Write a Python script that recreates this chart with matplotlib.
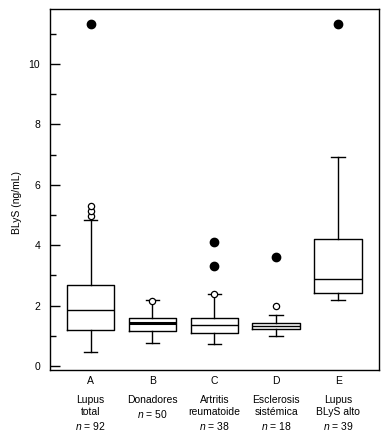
import matplotlib
matplotlib.use("Agg")
import matplotlib.pyplot as plt

plt.rcParams['font.family'] = ['Liberation Sans', 'DejaVu Sans']
plt.rcParams['mathtext.fontset'] = 'custom'
plt.rcParams['mathtext.it'] = 'Liberation Sans:italic'
plt.rcParams['mathtext.rm'] = 'Liberation Sans'

letters = ['A', 'B', 'C', 'D', 'E']
groups = ['Lupus\ntotal\n$n$ = 92', 'Donadores\n$n$ = 50', 'Artritis\nreumatoide\n$n$ = 38',
          'Esclerosis\nsistémica\n$n$ = 18', 'Lupus\nBLyS alto\n$n$ = 39']
whislo = [0.45, 0.75, 0.72, 0.99, 2.18]
q1 = [1.21, 1.15, 1.10, 1.22, 2.41]
med = [1.84, 1.43, 1.35, 1.31, 2.87]
q3 = [2.70, 1.58, 1.58, 1.41, 4.19]
whishi = [4.83, 2.19, 2.37, 1.68, 6.91]
open_out = [[4.97, 5.13, 5.30], [2.17], [2.38], [1.98], []]
extreme_out = [[11.33], [], [4.10, 3.32], [3.60], [11.33]]

fig = plt.figure(figsize=(3.88, 4.34), dpi=100)
ax = fig.add_axes([50/388, 64/434, 329/388, 361/434])

stats = []
for i in range(5):
    stats.append(dict(whislo=whislo[i], q1=q1[i], med=med[i], q3=q3[i],
                      whishi=whishi[i], fliers=open_out[i], label=letters[i]))
pos = list(range(1, 6))
res = ax.bxp(stats, positions=pos, widths=0.77, showfliers=True,
             boxprops=dict(color='black', linewidth=1.0),
             whiskerprops=dict(color='black', linewidth=1.0),
             capprops=dict(color='black', linewidth=1.0),
             medianprops=dict(color='black', linewidth=1.0),
             flierprops=dict(marker='o', markerfacecolor='white', markeredgecolor='black',
                             markersize=4.5, markeredgewidth=0.9, linestyle='none'),
             capwidths=0.22)
res['medians'][1].set_linewidth(2.2)
for i in range(5):
    if extreme_out[i]:
        ax.plot([pos[i]] * len(extreme_out[i]), extreme_out[i], 'o', color='black',
                markersize=6, linestyle='none')

ax.set_xlim(0.345, 5.66)
ax.set_ylim(-0.13, 11.82)
ax.set_yticks([0, 2, 4, 6, 8, 10])
ax.set_yticks([1, 3, 5, 7, 9, 11], minor=True)
ax.tick_params(axis='y', which='major', direction='in', length=7, width=1, labelsize=7.5, pad=7)
ax.tick_params(axis='y', which='minor', direction='in', length=4, width=1)
ax.set_xticks(pos)
ax.set_xticklabels(letters)
ax.tick_params(axis='x', length=0, labelsize=7.5, pad=4)
for s in ax.spines.values():
    s.set_linewidth(1.0)

ax.set_ylabel('BLyS (ng/mL)', fontsize=7.5)
ax.yaxis.set_label_coords(-0.085, 0.463)

for i in range(5):
    ax.text(pos[i], -0.068, groups[i], transform=ax.get_xaxis_transform(),
            ha='center', va='top', fontsize=7.5, linespacing=1.3)

fig.savefig('out.png', dpi=100)
